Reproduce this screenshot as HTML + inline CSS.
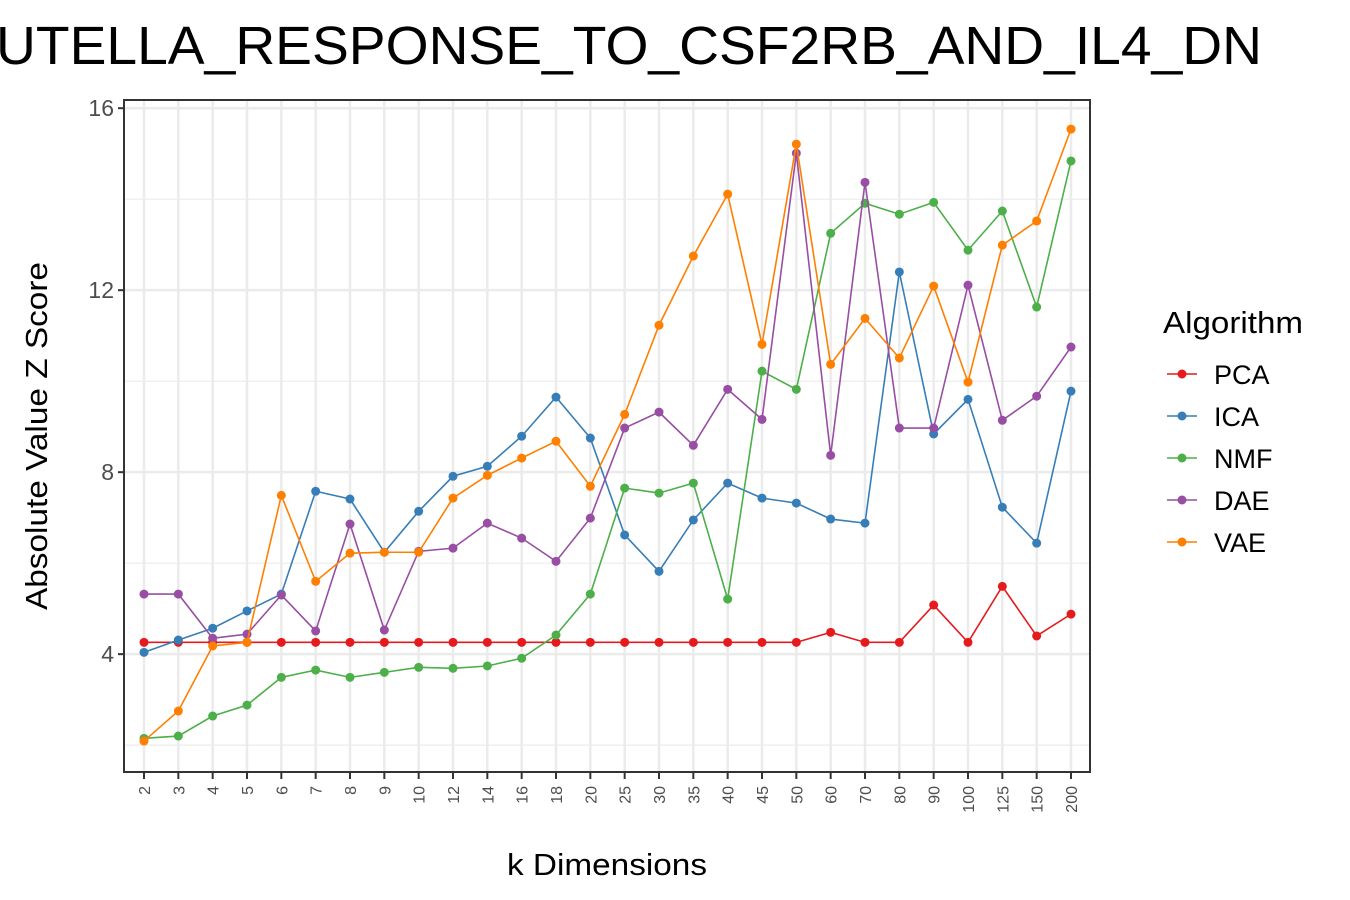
<!DOCTYPE html>
<html><head><meta charset="utf-8"><style>body{margin:0;background:#fff}svg{display:block;font-family:"Liberation Sans",Arial,sans-serif}</style></head>
<body>
<svg id="chart" width="1350" height="900" viewBox="0 0 1350 900">
<text x="-4" y="64" font-size="54" textLength="1266" lengthAdjust="spacingAndGlyphs" fill="#000">UTELLA_RESPONSE_TO_CSF2RB_AND_IL4_DN</text>
<g id="grid"></g><g id="series"></g><g id="axes"></g><g id="legend"></g>
<text x="607" y="875" font-size="31" textLength="200" lengthAdjust="spacingAndGlyphs" text-anchor="middle" fill="#000">k Dimensions</text>
<text transform="translate(47,436) rotate(-90)" font-size="31" textLength="348" lengthAdjust="spacingAndGlyphs" text-anchor="middle" fill="#000">Absolute Value Z Score</text>
</svg>
<script>
const categories=["2","3","4","5","6","7","8","9","10","12","14","16","18","20","25","30","35","40","45","50","60","70","80","90","100","125","150","200"];
const yTicks=[4,8,12,16];
const seriesNames=["PCA","ICA","NMF","DAE","VAE"];
const colors=["#E41A1C","#377EB8","#4DAF4A","#984EA3","#FF7F00"];
const pca=[4.26,4.26,4.26,4.26,4.26,4.26,4.26,4.26,4.26,4.26,4.26,4.26,4.26,4.26,4.26,4.26,4.26,4.26,4.26,4.26,4.48,4.26,4.26,5.08,4.26,5.49,4.40,4.88];
const ica=[4.04,4.31,4.57,4.95,5.32,7.58,7.41,6.24,7.14,7.91,8.13,8.79,9.65,8.75,6.62,5.82,6.95,7.76,7.43,7.32,6.97,6.88,12.40,8.84,9.60,7.23,6.44,9.78];
const nmf=[2.15,2.20,2.64,2.88,3.49,3.65,3.49,3.60,3.71,3.69,3.74,3.91,4.42,5.32,7.65,7.54,7.76,5.21,10.22,9.82,13.25,13.91,13.67,13.93,12.88,13.74,11.63,14.84];
const dae=[5.32,5.32,4.35,4.44,5.30,4.51,6.86,4.53,6.26,6.33,6.88,6.55,6.04,6.99,8.97,9.32,8.59,9.82,9.16,15.01,8.37,14.37,8.97,8.97,12.11,9.14,9.67,10.75];
const vae=[2.09,2.75,4.18,4.26,7.49,5.60,6.22,6.24,6.24,7.43,7.93,8.31,8.68,7.69,9.27,11.23,12.75,14.11,10.81,15.21,10.37,11.38,10.51,12.09,9.98,12.99,13.52,15.54];

const NS="http://www.w3.org/2000/svg";
const L=124,R=1090,T=100,B=772;
const yMin=1.41,yMax=16.18;
const xPos=i=>144+i*(1071-144)/(categories.length-1);
const yPos=v=>B-(v-yMin)/(yMax-yMin)*(B-T);
function mk(tag,attrs,parent){const e=document.createElementNS(NS,tag);for(const k in attrs)e.setAttribute(k,attrs[k]);parent.appendChild(e);return e;}
const grid=document.getElementById('grid'),axes=document.getElementById('axes'),ser=document.getElementById('series'),leg=document.getElementById('legend');
for(let v=2;v<=16;v+=2){if(v%4===0)continue;const g=mk('line',{x1:L,x2:R,y1:yPos(v),y2:yPos(v),stroke:'#EBEBEB','stroke-width':1.2},grid);

}
yTicks.forEach(v=>{const g=mk('line',{x1:L,x2:R,y1:yPos(v),y2:yPos(v),stroke:'#EBEBEB','stroke-width':2.5},grid);


const t=mk('line',{x1:L-6,x2:L,y1:yPos(v),y2:yPos(v),stroke:'#333','stroke-width':2},axes);


const tx=mk('text',{x:L-10,y:yPos(v)+8,'font-size':23,'text-anchor':'end',fill:'#4D4D4D'},axes);
tx.textContent=v;

});
categories.forEach((c,i)=>{const x=xPos(i);
const g=mk('line',{x1:x,x2:x,y1:T,y2:B,stroke:'#EBEBEB','stroke-width':2.5},grid);


const t=mk('line',{x1:x,x2:x,y1:B,y2:B+7,stroke:'#333','stroke-width':2},axes);


const tx=mk('text',{transform:`translate(${x+6},${B+14}) rotate(-90)`,'font-size':16,'text-anchor':'end',fill:'#4D4D4D'},axes);
tx.textContent=c;

});
const frame=mk('rect',{x:L,y:T,width:R-L,height:B-T,fill:'none',stroke:'#333','stroke-width':2},axes);


const data=[pca,ica,nmf,dae,vae];
data.forEach((arr,s)=>{
const p=mk('polyline',{points:arr.map((v,i)=>xPos(i)+','+yPos(v)).join(' '),fill:'none',stroke:colors[s],'stroke-width':1.6},ser);


arr.forEach((v,i)=>{const c=mk('circle',{cx:xPos(i),cy:yPos(v),r:4.5,fill:colors[s]},ser);

});});
const lt=mk('text',{x:1163,y:333,'font-size':31,textLength:140,lengthAdjust:'spacingAndGlyphs',fill:'#000'},leg);
lt.textContent='Algorithm';


seriesNames.forEach((n,s)=>{const y=374+s*42;
const g=mk('g',{},leg);


mk('line',{x1:1167,x2:1197,y1:y,y2:y,stroke:colors[s],'stroke-width':1.6},g);
mk('circle',{cx:1182,cy:y,r:4.5,fill:colors[s]},g);
const t=mk('text',{x:1214,y:y+10,'font-size':27,fill:'#000'},g);t.textContent=n;});
</script>
</body></html>
